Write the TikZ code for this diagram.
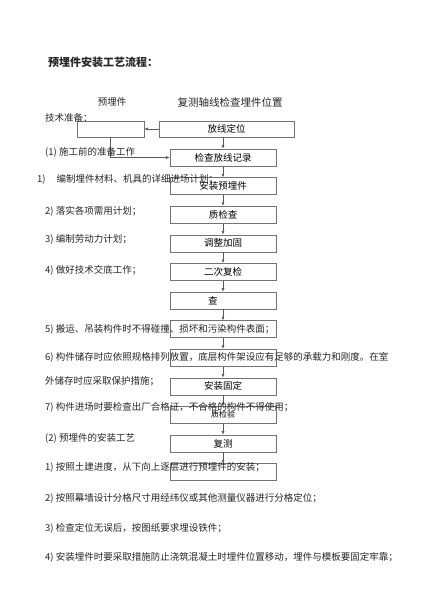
\documentclass[tikz,border=0pt]{standalone}
\usepackage{fontspec}
\setmainfont{Noto Sans CJK SC}
\usetikzlibrary{arrows.meta,positioning}

\begin{document}
\begin{tikzpicture}[
  x=1pt, y=-1pt,
  font=\fontsize{9.5}{11}\selectfont,
  node distance=11pt,
  stepbox/.style={draw=black!55, line width=0.6pt, minimum width=106pt,
    minimum height=17pt, inner sep=0pt},
  lbl/.style={anchor=west, inner sep=0pt, text=black!85},
  flow/.style={draw=black!65, line width=0.6pt, -{Latex[length=3.5pt,width=3pt]}}]
\fill[white] (0,0) rectangle (424,600);
\useasboundingbox (0,0) rectangle (424,600);

\node [lbl, font=\fontsize{11}{13}\selectfont\bfseries] (title) at (48,62) {预埋件安装工艺流程：};
\node [text=black!85] (hd1) at (112,102) {预埋件};
\node [text=black!85, font=\fontsize{10.5}{12}\selectfont] (hd2) at (230,102) {复测轴线检查埋件位置};

%% top row
\node [stepbox, minimum width=67pt, minimum height=16pt] (b1) at (110.5,129) {};
\node [stepbox, minimum width=135pt, minimum height=16pt] (b2) at (226.5,129) {放线定位};

%% main column
\node [stepbox] (b3) at (223,157.5) {检查放线记录};
\node [stepbox, below=of b3] (b4) {安装预埋件};
\node [stepbox, below=of b4] (b5) {质检查};
\node [stepbox, below=of b5] (b6) {调整加固};
\node [stepbox, below=of b6] (b7) {二次复检};
\node [stepbox, below=of b7] (b8) {\makebox[30pt][l]{查}};
\node [stepbox, below=of b8] (b9) {};
\node [stepbox, below=of b9] (b10) {};
\node [stepbox, below=of b10] (b11) {安装固定};
\node [stepbox, below=of b11, font=\fontsize{8}{9}\selectfont] (b12) {\raisebox{-4.5pt}{质检验}};
\node [stepbox, below=of b12] (b13) {复测};
\node [stepbox, below=of b13] (b14) {};

\draw [flow] (b2.west) -- (b1.east);
\draw [flow] (b1.south) |- (b3.west);
\draw [flow] (b3.north |- b2.south) -- (b3.north);
\foreach \a/\b in {b3/b4,b4/b5,b5/b6,b6/b7,b7/b8,b8/b9,b9/b10,
  b10/b11,b11/b12,b12/b13,b13/b14}
  \draw [flow] (\a) -- (\b);

%% texts of the page
\node [lbl] (t0) at (45,118) {技术准备：};
\node [lbl] (t1) at (45,152) {(1) 施工前的准备工作};
\node [lbl] (t2) at (37,179) {1)\hspace{11pt}编制埋件材料、机具的详细进场计划；};
\node [lbl] (t3) at (45,211) {2) 落实各项需用计划；};
\node [lbl] (t4) at (45,239) {3) 编制劳动力计划；};
\node [lbl] (t5) at (45,270) {4) 做好技术交底工作；};
\node [lbl] (t6) at (45,329) {5) 搬运、吊装构件时不得碰撞、损坏和污染构件表面；};
\node [lbl] (t7) at (45,357) {6) 构件储存时应依照规格排列放置，底层构件架设应有足够的承载力和刚度。在室};
\node [lbl] (t8) at (45,381) {外储存时应采取保护措施；};
\node [lbl] (t9) at (45,407) {7) 构件进场时要检查出厂合格证，不合格的构件不得使用；};
\node [lbl] (t10) at (45,438) {(2) 预埋件的安装工艺};
\node [lbl] (t11) at (45,467) {1) 按照土建进度，从下向上逐层进行预埋件的安装；};
\node [lbl] (t12) at (45,498) {2) 按照幕墙设计分格尺寸用经纬仪或其他测量仪器进行分格定位；};
\node [lbl] (t13) at (45,528) {3) 检查定位无误后，按图纸要求埋设铁件；};
\node [lbl] (t14) at (45,557) {4) 安装埋件时要采取措施防止浇筑混凝土时埋件位置移动，埋件与模板要固定牢靠；};
\end{tikzpicture}
\end{document}
